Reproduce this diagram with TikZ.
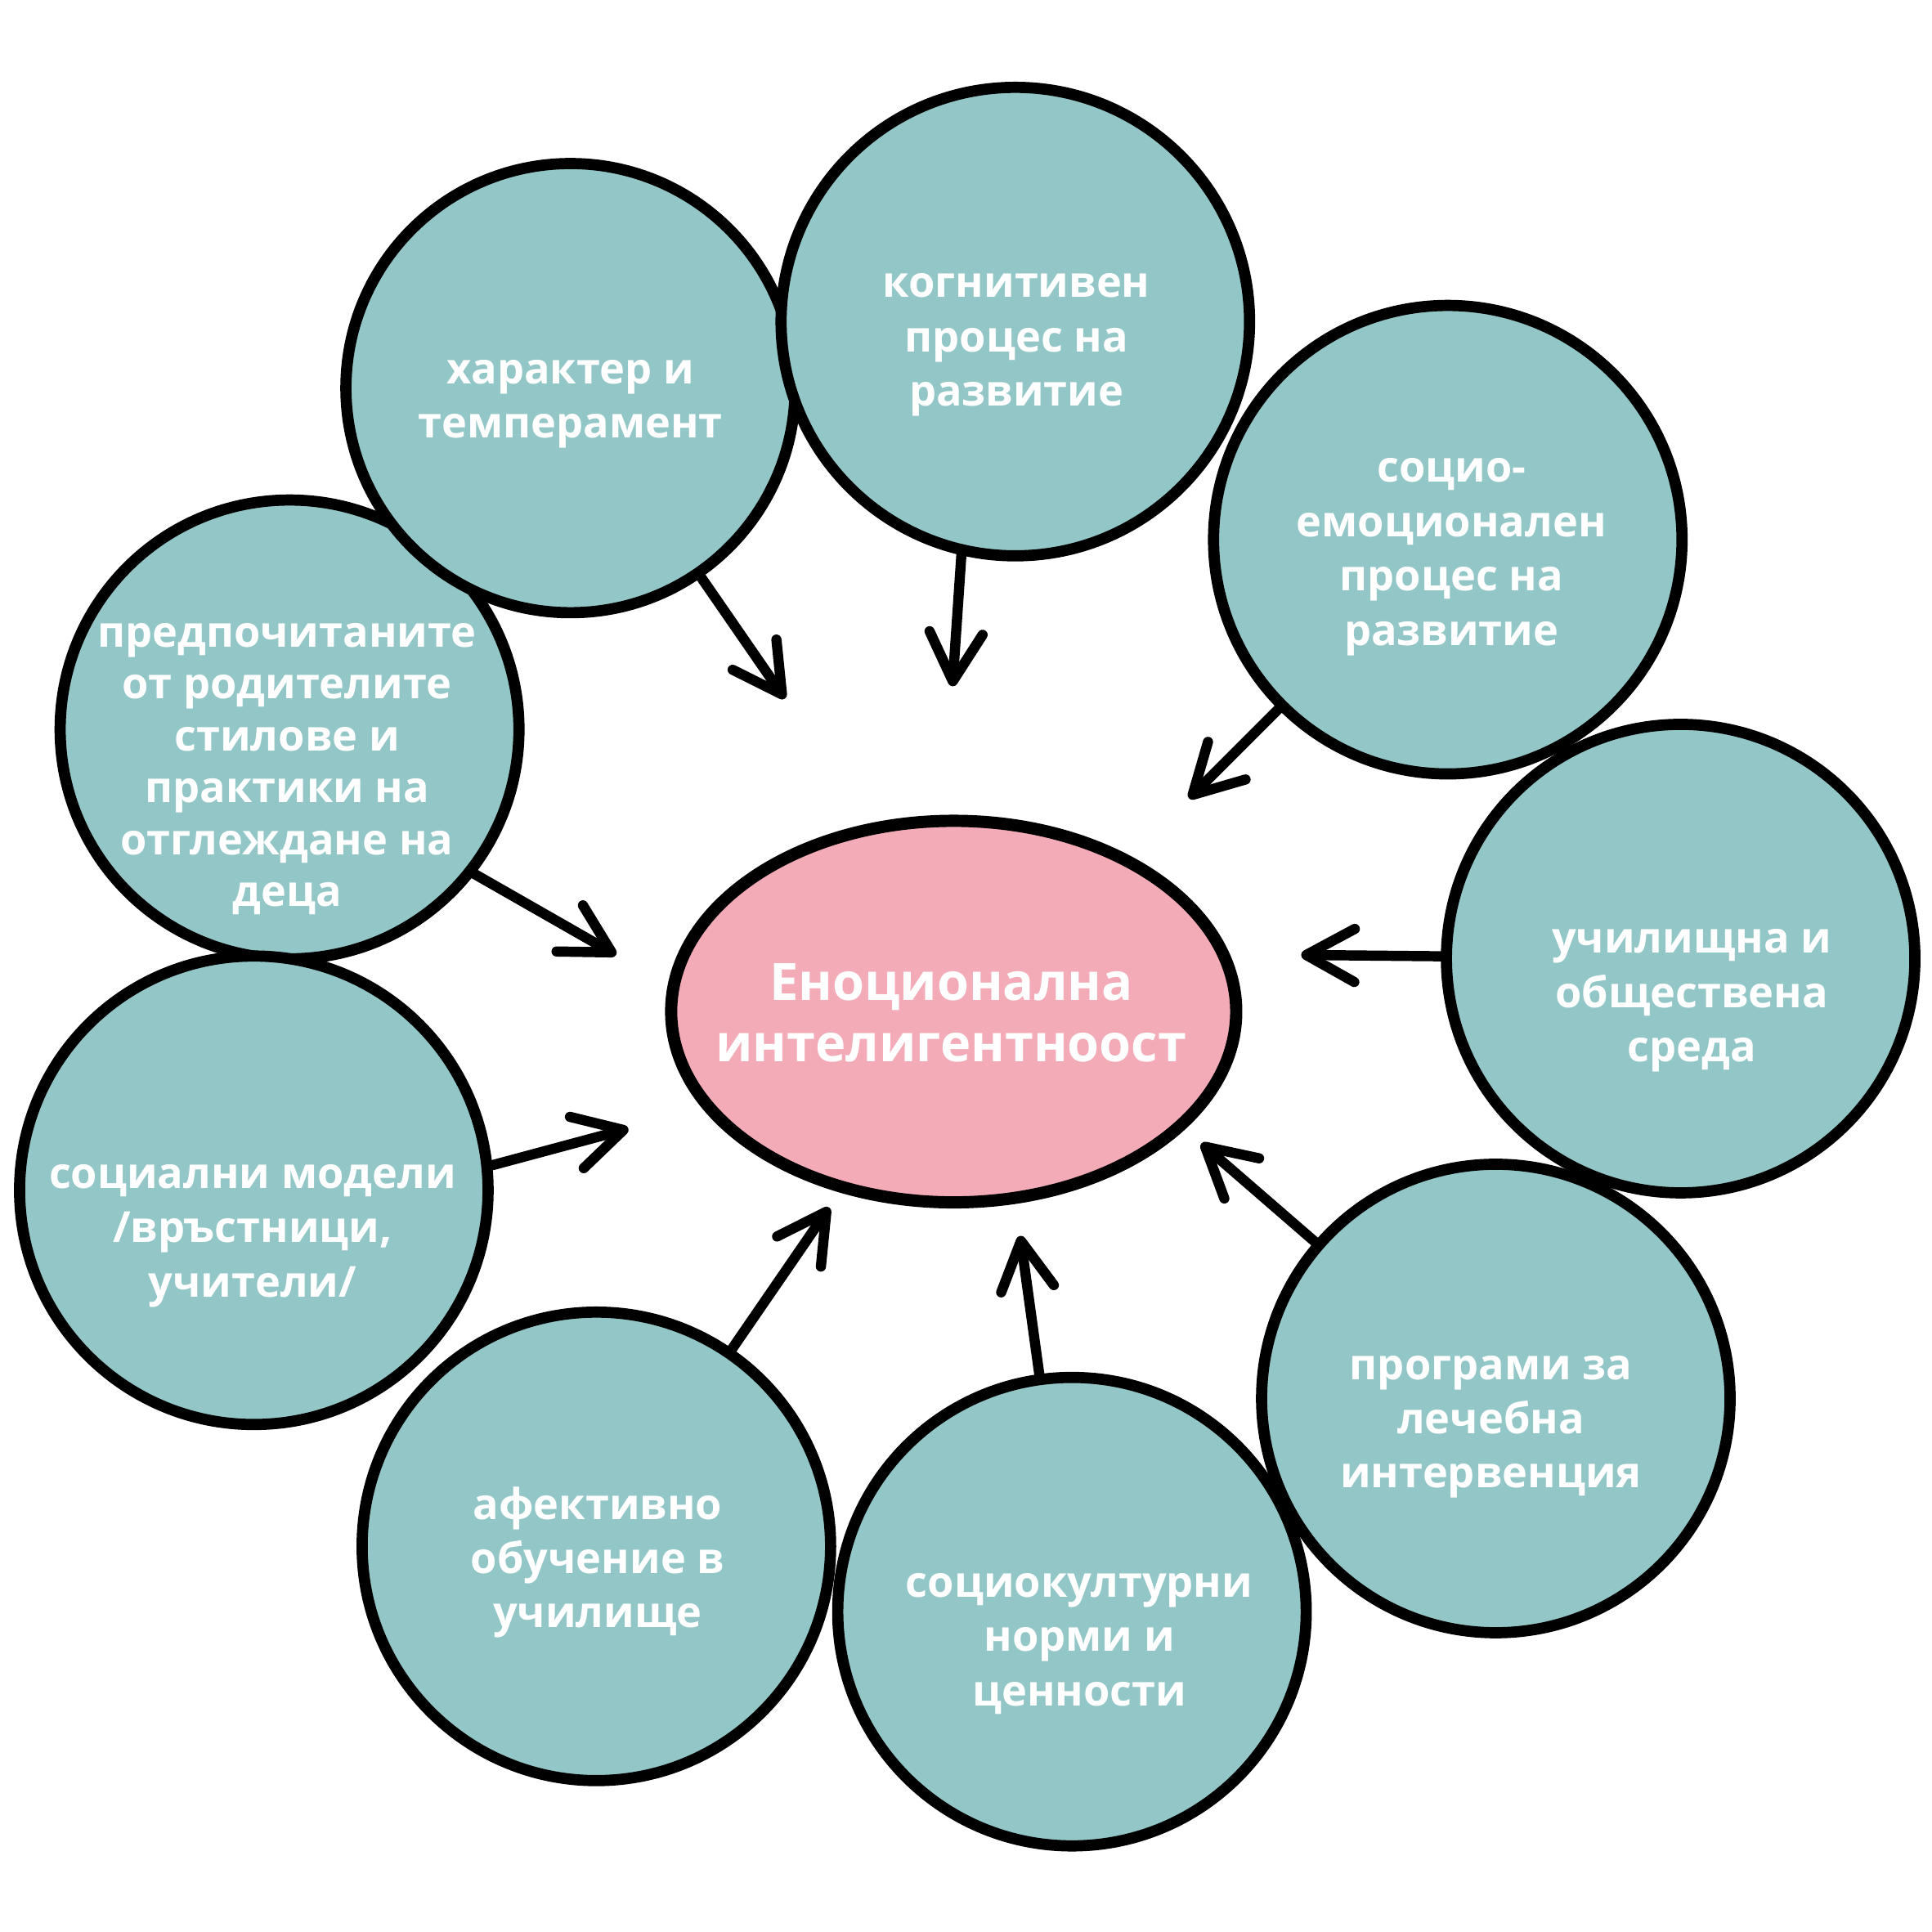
\documentclass[tikz,border=0pt]{standalone}
\usepackage{fontspec}
\setmainfont{Open Sans}
\usetikzlibrary{shapes.geometric, arrows.meta, positioning}
\definecolor{bubbleteal}{RGB}{147,198,199}
\definecolor{corepink}{RGB}{242,171,183}

\begin{document}
\begin{tikzpicture}[x=0.012755cm, y=-0.012755cm,
    bubble/.style={draw=black, line width=3.3pt, circle, fill=bubbleteal, minimum size=4.85cm, inner sep=0pt},
    btext/.style={text=white, font=\bfseries\fontsize{12.6}{16}\selectfont, align=center},
    arr/.style={-{Straight Barb[length=5mm, width=5.5mm, round]}, line width=3pt, line cap=round, line join=round}]
    \useasboundingbox (0,0) rectangle (1568,1568);
    % bubbles
    \node[bubble, minimum size=4.75cm] (pref) at (235,592) {};
    \node[bubble, minimum size=4.65cm] (char) at (463,315) {};
    \node[bubble] (cog) at (824,261) {};
    \node[bubble] (soc) at (1175,438) {};
    \node[bubble] (school) at (1364,778) {};
    \node[bubble] (prog) at (1214,1135) {};
    \node[bubble] (norms) at (870,1308) {};
    \node[bubble] (aff) at (484,1255) {};
    \node[bubble] (socm) at (206,966) {};
    \node[ellipse, draw=black, line width=3.6pt, fill=corepink, minimum width=5.85cm, minimum height=3.95cm, inner sep=0pt] (core) at (774,821) {};
    % texts
    \node[btext] (chartxt) at (463,328) {характер и\\темперамент};
    \node[btext] (cogtxt) at (825,280) {когнитивен\\процес на\\развитие};
    \node[btext] (soctxt) at (1178,452) {социо-\\емоционален\\процес на\\развитие};
    \node[btext] (schooltxt) at (1373,812) {училищна и\\обществена\\среда};
    \node[btext] (progtxt) at (1210,1158) {програми за\\лечебна\\интервенция};
    \node[btext] (normstxt) at (876,1334) {социокултурни\\норми и\\ценности};
    \node[btext] (afftxt) at (485,1268) {афективно\\обучение в\\училище};
    \node[btext] (socmtxt) at (205,1003) {социални модели\\/връстници,\\учители/};
    \node[btext, font=\bfseries\fontsize{12.6}{15.3}\selectfont] (preftxt) at (233,624) {предпочитаните\\от родителите\\стилове и\\практики на\\отглеждане на\\деца};
    \node[text=white, font=\bfseries\fontsize{15.2}{18.2}\selectfont, align=center] (coretxt) at (772,822) {Еноционална\\интелигентноост};
    % arrow tips
    \coordinate (tipchar) at (637,567);
    \coordinate (tipcog) at (773,557);
    \coordinate (tipsoc) at (965,648);
    \coordinate (tipschool) at (1056,775);
    \coordinate (tipprog) at (975,928);
    \coordinate (tipnorms) at (828,1003);
    \coordinate (tipaff) at (673,980);
    \coordinate (tipsocm) at (510,916);
    \coordinate (tippref) at (500,775);
    % arrows
    \draw[arr] (char) -- (tipchar);
    \draw[arr] (cog.-103) -- (tipcog);
    \draw[arr] (soc) -- (tipsoc);
    \draw[arr] (school) -- (tipschool);
    \draw[arr] (prog) -- (tipprog);
    \draw[arr] (norms) -- (tipnorms);
    \draw[arr] (aff) -- (tipaff);
    \draw[arr] (socm.6) -- (tipsocm);
    \draw[arr] (pref.-38) -- (tippref);
\end{tikzpicture}
\end{document}
